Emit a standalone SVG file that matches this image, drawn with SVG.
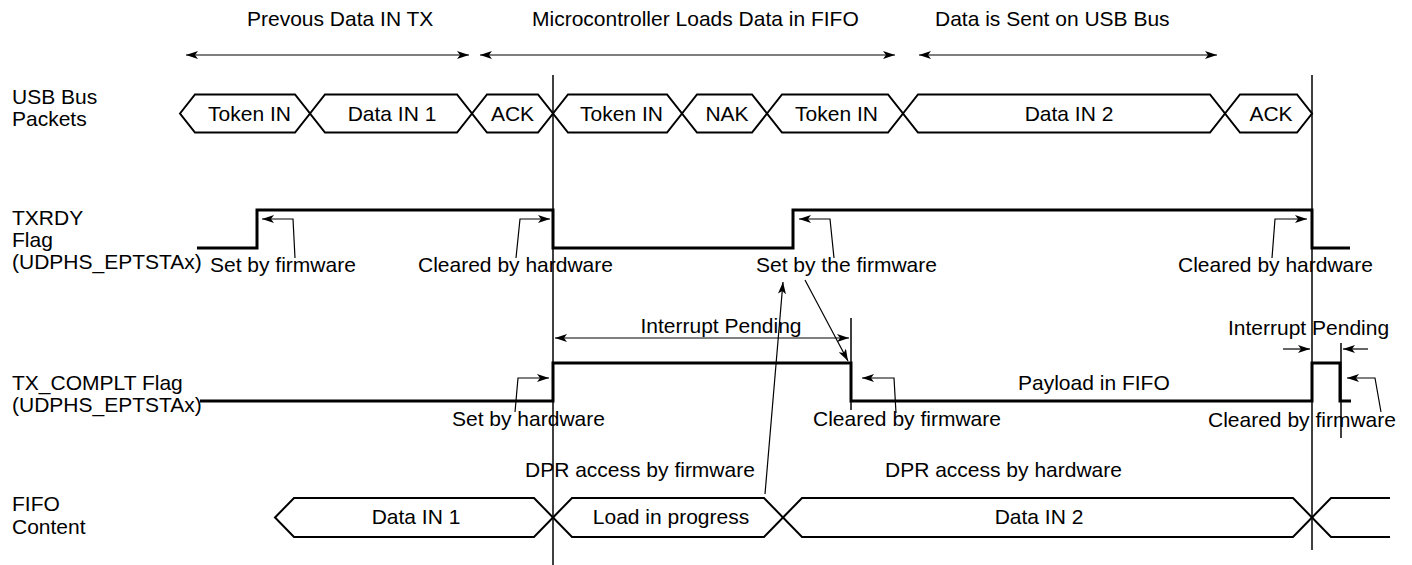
<svg xmlns="http://www.w3.org/2000/svg" width="1412" height="565" viewBox="0 0 1412 565">
<defs>
<marker id="ah" viewBox="0 0 12 8" refX="12" refY="4" markerWidth="12" markerHeight="8" markerUnits="userSpaceOnUse" orient="auto-start-reverse">
<path d="M0,0 L12,4 L0,8 L3,4 z" fill="#000"/>
</marker>
</defs>
<style>
text{font-family:"Liberation Sans",Arial,sans-serif;font-size:21px;fill:#000}
.m{text-anchor:middle}
.bus{fill:none;stroke:#000;stroke-width:2;stroke-linejoin:miter}
.sig{fill:none;stroke:#000;stroke-width:3}
.vl{stroke:#000;stroke-width:1.5;fill:none}
.ld{stroke:#000;stroke-width:1.2;fill:none;marker-end:url(#ah)}
.dbl{stroke:#000;stroke-width:1.2;fill:none;marker-end:url(#ah);marker-start:url(#ah)}
</style>
<rect width="1412" height="565" fill="#fff"/>

<g id="phases">
<text x="247" y="26">Prevous Data IN TX</text>
<text x="532" y="26">Microcontroller Loads Data in FIFO</text>
<text x="935" y="26">Data is Sent on USB Bus</text>
<line class="dbl" x1="186" y1="55" x2="469" y2="55"/>
<line class="dbl" x1="480" y1="55" x2="895" y2="55"/>
<line class="dbl" x1="919" y1="55" x2="1217" y2="55"/>
</g>

<g id="labels">
<text x="12" y="104">USB Bus</text>
<text x="12" y="126">Packets</text>
<text x="12" y="225">TXRDY</text>
<text x="12" y="247">Flag</text>
<text x="12" y="269">(UDPHS_EPTSTAx)</text>
<text x="12" y="390">TX_COMPLT Flag</text>
<text x="12" y="412">(UDPHS_EPTSTAx)</text>
<text x="12" y="511">FIFO</text>
<text x="12" y="534">Content</text>
</g>

<g id="packets">
<path class="bus" d="M180,113.5 L195,94.5 L295,94.5 L310,113.5 L295,132.5 L195,132.5 Z"/>
<path class="bus" d="M310,113.5 L325,94.5 L457,94.5 L472,113.5 L457,132.5 L325,132.5 Z"/>
<path class="bus" d="M472,113.5 L487,94.5 L538,94.5 L553,113.5 L538,132.5 L487,132.5 Z"/>
<path class="bus" d="M553,113.5 L568,94.5 L667,94.5 L682,113.5 L667,132.5 L568,132.5 Z"/>
<path class="bus" d="M682,113.5 L697,94.5 L752,94.5 L767,113.5 L752,132.5 L697,132.5 Z"/>
<path class="bus" d="M767,113.5 L782,94.5 L888,94.5 L903,113.5 L888,132.5 L782,132.5 Z"/>
<path class="bus" d="M903,113.5 L918,94.5 L1210,94.5 L1225,113.5 L1210,132.5 L918,132.5 Z"/>
<path class="bus" d="M1225,113.5 L1240,94.5 L1297,94.5 L1312,113.5 L1297,132.5 L1240,132.5 Z"/>
<text class="m" x="249.5" y="121">Token IN</text>
<text class="m" x="392" y="121">Data IN 1</text>
<text class="m" x="512.5" y="121">ACK</text>
<text class="m" x="621.5" y="121">Token IN</text>
<text class="m" x="727" y="121">NAK</text>
<text class="m" x="836.5" y="121">Token IN</text>
<text class="m" x="1069" y="121">Data IN 2</text>
<text class="m" x="1271" y="121">ACK</text>
</g>

<g id="txrdy">
<polyline class="sig" points="197,248 257,248 257,210 553,210 553,248 793,248 793,210 1312,210 1312,248 1350,248"/>
<text x="210" y="272">Set by firmware</text>
<text x="418" y="272">Cleared by hardware</text>
<text x="756" y="272">Set by the firmware</text>
<text x="1178" y="272">Cleared by hardware</text>
</g>

<g id="txcomplt">
<polyline class="sig" points="200,401 553,401 553,363 851,363 851,401 1312,401 1312,363 1340,363 1340,401 1351,401"/>
<text class="m" x="721" y="333">Interrupt Pending</text>
<text x="1228" y="335">Interrupt Pending</text>
<text x="452" y="426">Set by hardware</text>
<text x="813" y="426">Cleared by firmware</text>
<text x="1018" y="390">Payload in FIFO</text>
<text x="1208" y="427">Cleared by firmware</text>
</g>

<g id="fifo">
<path class="bus" d="M275,517.5 L294,498 L534,498 L553,517.5 L534,537 L294,537 Z"/>
<path class="bus" d="M553,517.5 L572,498 L764,498 L783,517.5 L764,537 L572,537 Z"/>
<path class="bus" d="M783,517.5 L802,498 L1293,498 L1312,517.5 L1293,537 L802,537 Z"/>
<path class="bus" d="M1390,498 L1331,498 L1312,517.5 L1331,537 L1390,537"/>
<text class="m" x="416" y="524">Data IN 1</text>
<text class="m" x="671" y="524">Load in progress</text>
<text class="m" x="1039" y="524">Data IN 2</text>
<text x="525" y="477">DPR access by firmware</text>
<text x="885" y="477">DPR access by hardware</text>
</g>

<g id="connectors">
<line class="vl" x1="553" y1="75" x2="553" y2="565"/>
<line class="vl" x1="1312" y1="75" x2="1312" y2="550"/>
<line class="vl" x1="851" y1="318" x2="851" y2="410"/>
<line class="vl" x1="1341" y1="343" x2="1341" y2="438"/>
<polyline class="ld" points="295,258 293,219 262,219"/>
<polyline class="ld" points="516,258 520,219 550,219"/>
<polyline class="ld" points="834,258 830,219 799,219"/>
<polyline class="ld" points="1272,258 1275,219 1307,219"/>
<polyline class="ld" points="515,412 518,378 549,378"/>
<polyline class="ld" points="896,413 894,378 862,378"/>
<polyline class="ld" points="1381,412 1375,378 1347,378"/>
<line class="dbl" x1="555" y1="338" x2="849" y2="338"/>
<line class="ld" x1="1283" y1="349" x2="1310" y2="349"/>
<line class="ld" x1="1368" y1="349" x2="1343" y2="349"/>
<line class="ld" x1="765" y1="494" x2="783" y2="282"/>
<line class="ld" x1="805" y1="280" x2="848" y2="361"/>
</g>
</svg>
